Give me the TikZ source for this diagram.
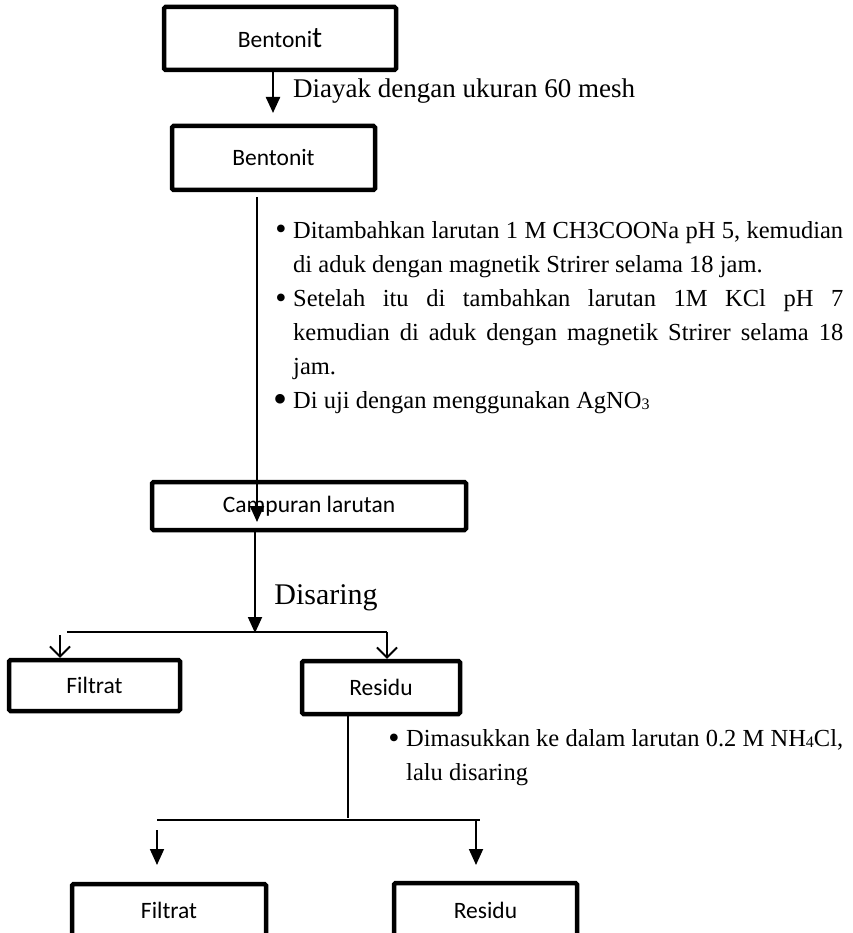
\documentclass[tikz,border=0pt]{standalone}
\usepackage{fontspec}
\setmainfont{Liberation Serif}
\newfontfamily\carl{Carlito}
\usetikzlibrary{arrows.meta}
\newcommand{\subdig}[1]{\raisebox{-1.5pt}{\fontsize{16}{16}\selectfont #1}}
\begin{document}
\begin{tikzpicture}[x=1pt,y=-1pt,
 box/.style={draw, line width=4.5pt, rounded corners=1.5pt, inner sep=0pt, fill=white,
   font=\carl\fontsize{23.5}{28}\selectfont},
 conn/.style={line width=1.8pt},
 farrow/.style={conn, -{Triangle[length=16pt,width=14pt]}},
 varrow/.style={conn, -{Straight Barb[length=10pt,width=20pt,line width=1.8pt]}},
 txt/.style={inner sep=0pt, anchor=base west, font=\fontsize{24.5}{34}\selectfont},
 bul/.style={inner sep=0pt, anchor=base, font=\fontsize{32}{34}\selectfont},
]
\useasboundingbox (0,0) rectangle (852,933);
\clip (0,0) rectangle (852,933);

% boxes
\node[box, minimum width=232, minimum height=63] (b1) at (280,38.5) {Bentoni{\fontsize{30}{30}\selectfont t}};
\node[box, minimum width=203, minimum height=64] (b2) at (273.5,158) {Bentonit};
\node[box, minimum width=314, minimum height=48] (cl) at (309,506) {Campuran larutan};
\node[box, minimum width=171, minimum height=51] (f1) at (94.5,685.5) {Filtrat};
\node[box, minimum width=158, minimum height=53] (r1) at (381,687.5) {Residu};
\node[box, minimum width=194, minimum height=56] (f2) at (169,912) {\raisebox{4pt}{Filtrat}};
\node[box, minimum width=183, minimum height=56] (r2) at (485.5,911) {\raisebox{2pt}{Residu}};

% first arrow and label
\coordinate (t1) at (273,113);
\draw[farrow, line width=2.4pt] (b1.south -| t1) -- (t1);
\node[txt, font=\fontsize{27}{34}\selectfont] (lab1) at (293,98) {Diayak dengan ukuran 60 mesh};

% long arrow into Campuran
\coordinate (s2) at (257,197);
\coordinate (t2) at (257,522);
\draw[farrow] (s2) -- (t2);

% bullet paragraph
\node[bul] (bu1) at (281,240) {\textbullet};
\node[txt] (l1) at (293,238) {\makebox[550pt][s]{Ditambahkan larutan 1 M CH3COONa pH 5, kemudian}};
\node[txt] (l2) at (293,272) {di aduk dengan magnetik Strirer selama 18 jam.};
\node[bul] (bu2) at (281,308) {\textbullet};
\node[txt] (l3) at (293,306) {\makebox[550pt][s]{Setelah itu di tambahkan larutan 1M KCl pH 7}};
\node[txt] (l4) at (293,340) {\makebox[550pt][s]{kemudian di aduk dengan magnetik Strirer selama 18}};
\node[txt] (l5) at (293,374) {jam.};
\node[bul, font=\fontsize{40}{40}\selectfont] (bu3) at (280,412) {\textbullet};
\node[txt] (l6) at (293,408) {Di uji dengan menggunakan AgNO\subdig{3}};

% split after Campuran
\coordinate (t3) at (255,633);
\draw[farrow] (cl.south -| t3) -- (t3);
\node[inner sep=0pt, font=\fontsize{30}{34}\selectfont] (dis) at (326,598) {Disaring};
\coordinate (h1l) at (67,632);
\coordinate (h1r) at (387,632);
\draw[conn] (h1l) -- (h1r);
\coordinate (v1s) at (60,635);
\draw[varrow] (v1s) -- (f1.north -| v1s);
\draw[varrow] (h1r) -- (r1.north -| h1r);

% residu -> lower split
\coordinate (d1) at (348,818);
\draw[conn] (r1.south -| d1) -- (d1);
\node[bul] (bu4) at (394,748) {\textbullet};
\node[txt] (m1) at (406,746) {\makebox[437pt][s]{Dimasukkan ke dalam larutan 0.2 M NH\subdig{4}Cl,}};
\node[txt] (m2) at (406,780) {lalu disaring};
\coordinate (h2l) at (157,820);
\coordinate (h2r) at (480,820);
\draw[conn] (h2l) -- (h2r);
\coordinate (a2s) at (157,830);
\coordinate (a2t) at (157,865);
\draw[farrow] (a2s) -- (a2t);
\coordinate (a3s) at (476,820);
\coordinate (a3t) at (476,865);
\draw[farrow] (a3s) -- (a3t);
\end{tikzpicture}
\end{document}
